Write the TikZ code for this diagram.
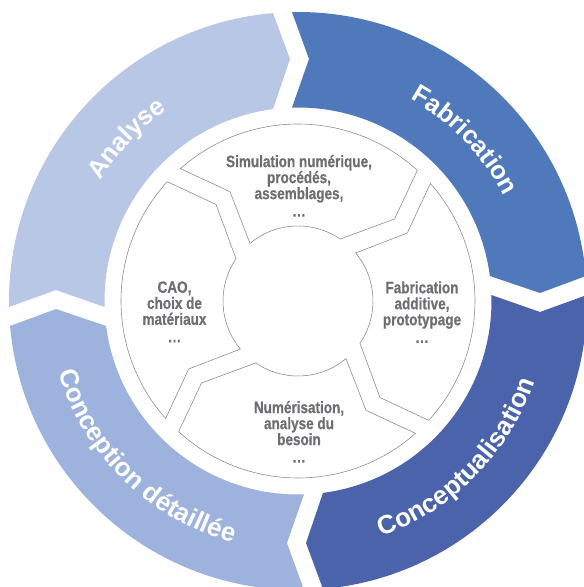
\documentclass[tikz,border=0pt]{standalone}
\usepackage{fontspec}
\setmainfont{Liberation Sans}
\newfontfamily\condfont[FakeStretch=0.82, BoldFeatures={FakeBold=0.5}]{Liberation Sans}
\usetikzlibrary{decorations.text}
\definecolor{anacol}{HTML}{B8C7E6}
\definecolor{fabcol}{HTML}{5079BC}
\definecolor{concol}{HTML}{4A63AB}
\definecolor{detcol}{HTML}{9DB3DD}
\definecolor{textgray}{HTML}{6D6E71}
\definecolor{linegray}{HTML}{8E8E8E}
\newcommand\bandfont{\bfseries\fontsize{25.5}{25.5}\selectfont}
\newcommand\bandfontb{\bfseries\fontsize{26}{26}\selectfont}
\tikzset{
  piece/.style={fill=white, draw=linegray, line width=0.6pt},
  inlabel/.style={font=\condfont\bfseries\fontsize{16.5}{16}\selectfont, text=textgray, align=center, inner sep=0pt, anchor=north},
  bandtext/.style={decorate, decoration={text along path, text align=center, text color=white, text={#1}}}
}
\begin{document}
\begin{tikzpicture}[x=1pt,y=1pt]
\useasboundingbox (-298,-286) rectangle (286,301);
\clip (-298,-286) rectangle (286,301);
% outer arrow band
\foreach \ang/\col in {0/anacol,-90/fabcol,-180/concol,-270/detcol}{
  \begin{scope}[rotate=\ang]
    \fill[\col] (181.19:289pt) arc[start angle=181.19, end angle=94.96, radius=289pt]
      -- (-8pt,242pt) -- (97.42:193.5pt)
      arc[start angle=97.42, end angle=181.78, radius=193.5pt]
      -- (-242pt,11pt) -- cycle;
  \end{scope}
}
% inner pieces
\foreach \ang in {0,-90,-180,-270}{
  \begin{scope}[rotate=\ang]
    \draw[piece] (47.6:177pt) arc[start angle=47.6, end angle=131.6, radius=177pt]
      -- (-68pt,109.3pt) -- (129.8:75pt)
      arc[start angle=129.8, end angle=55.7, radius=75pt]
      -- (96.5pt,82pt) -- cycle;
  \end{scope}
}
% inner texts
\node[inlabel] (sim) at (1,146.2) {Simulation numérique,\\procédés,\\assemblages,\\[1.5pt]…};
\node[inlabel] (cao) at (-123.5,19.9) {CAO,\\choix de\\matériaux\\[1.5pt]…};
\node[inlabel] (fab) at (124,19.9) {Fabrication\\additive,\\prototypage\\[1.5pt]…};
\node[inlabel] (num) at (1,-99.8) {Numérisation,\\analyse du\\besoin\\[1.5pt]…};
% band texts
\path[bandtext={|\bandfont|Analyse}] (166.6:231pt) arc[start angle=166.6, end angle=106.6, radius=231pt];
\path[bandtext={|\bandfont|Fabrication}] (73.9:231pt) arc[start angle=73.9, end angle=13.9, radius=231pt];
\path[bandtext={|\bandfontb|Conceptualisation}] (-89.65:250pt) arc[start angle=-89.65, end angle=0.35, radius=250pt];
\path[bandtext={|\bandfontb|Conception détaillée}] (180.75:250pt) arc[start angle=180.75, end angle=270.75, radius=250pt];
\end{tikzpicture}
\end{document}
